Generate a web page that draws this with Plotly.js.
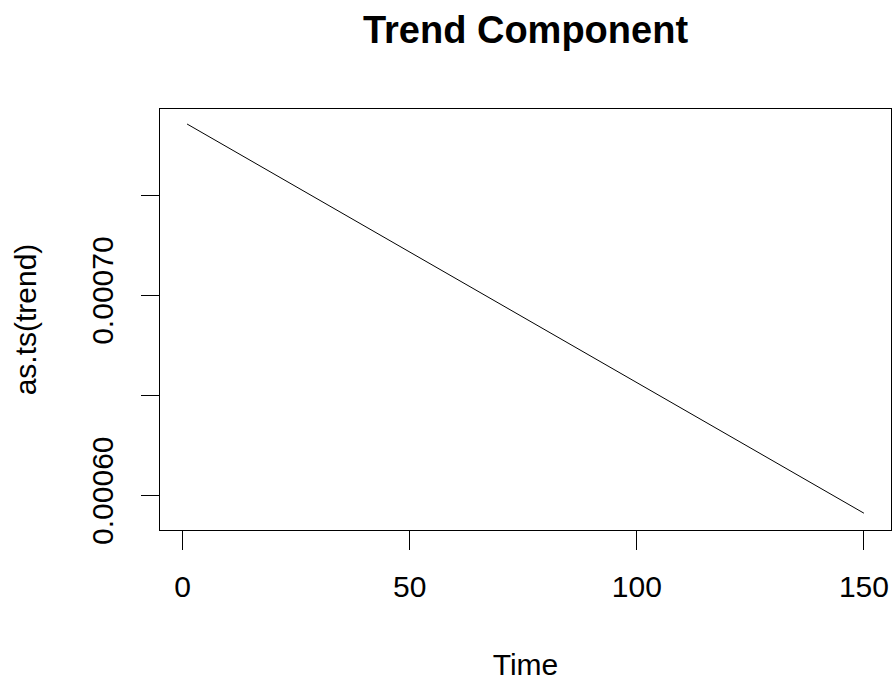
<!DOCTYPE html>
<html>
<head>
<meta charset="utf-8">
<script src="https://cdn.plot.ly/plotly-3.0.1.min.js"></script>
<style>html,body{margin:0;padding:0;background:#fff;}#chart{width:894px;height:686px;}</style>
</head>
<body>
<div id="chart"></div>
<script>
// Values
var timeIdx = [1, 25, 50, 75, 100, 125, 150];
var trendVals = [0.0007855, 0.0007542, 0.0007216, 0.0006889, 0.0006563, 0.0006237, 0.0005910];
var xTickVals = [0, 50, 100, 150];
var xTickText = ['0', '50', '100', '150'];
var yTickVals = [0.00060, 0.00065, 0.00070, 0.00075];
var yTickText = ['0.00060', '', '0.00070', ''];

var font = 'Liberation Sans, Arial, sans-serif';
var trace = {
  x: timeIdx, y: trendVals, type: 'scatter', mode: 'lines',
  line: {color: '#000', width: 1}, hoverinfo: 'none'
};
var layout = {
  width: 894, height: 686,
  margin: {l: 160, r: 3, t: 109, b: 156, pad: 0},
  paper_bgcolor: '#fff', plot_bgcolor: '#fff',
  showlegend: false,
  font: {family: font, color: '#000', size: 30},
  title: {text: '<b>Trend Component</b>', font: {family: font, size: 38, color: '#000'},
          xref: 'paper', x: 0.5, xanchor: 'center', yref: 'container', y: 1 - 30/686, yanchor: 'middle'},
  xaxis: {
    range: [-4.96, 155.96], showgrid: false, zeroline: false,
    showline: true, mirror: true, linecolor: '#000', linewidth: 1,
    ticks: 'outside', ticklen: 19, tickwidth: 1, tickcolor: '#000',
    tickmode: 'array', tickvals: xTickVals, ticktext: xTickText,
    ticklabelstandoff: 11,
    tickfont: {family: font, size: 30, color: '#000'},
    title: {text: 'Time', font: {family: font, size: 30, color: '#000'}, standoff: 51},
    automargin: false
  },
  yaxis: {
    range: [0.0005826, 0.0007930], showgrid: false, zeroline: false,
    showline: true, mirror: true, linecolor: '#000', linewidth: 1,
    ticks: 'outside', ticklen: 18, tickwidth: 1, tickcolor: '#000',
    tickmode: 'array', tickvals: yTickVals, ticktext: yTickText,
    tickangle: -90, ticklabelstandoff: 16,
    tickfont: {family: font, size: 30, color: '#000'},
    title: {text: 'as.ts(trend)', font: {family: font, size: 30, color: '#000'}, standoff: 40},
    automargin: false
  }
};
Plotly.newPlot('chart', [trace], layout, {displayModeBar: false, staticPlot: true});
</script>
</body>
</html>
